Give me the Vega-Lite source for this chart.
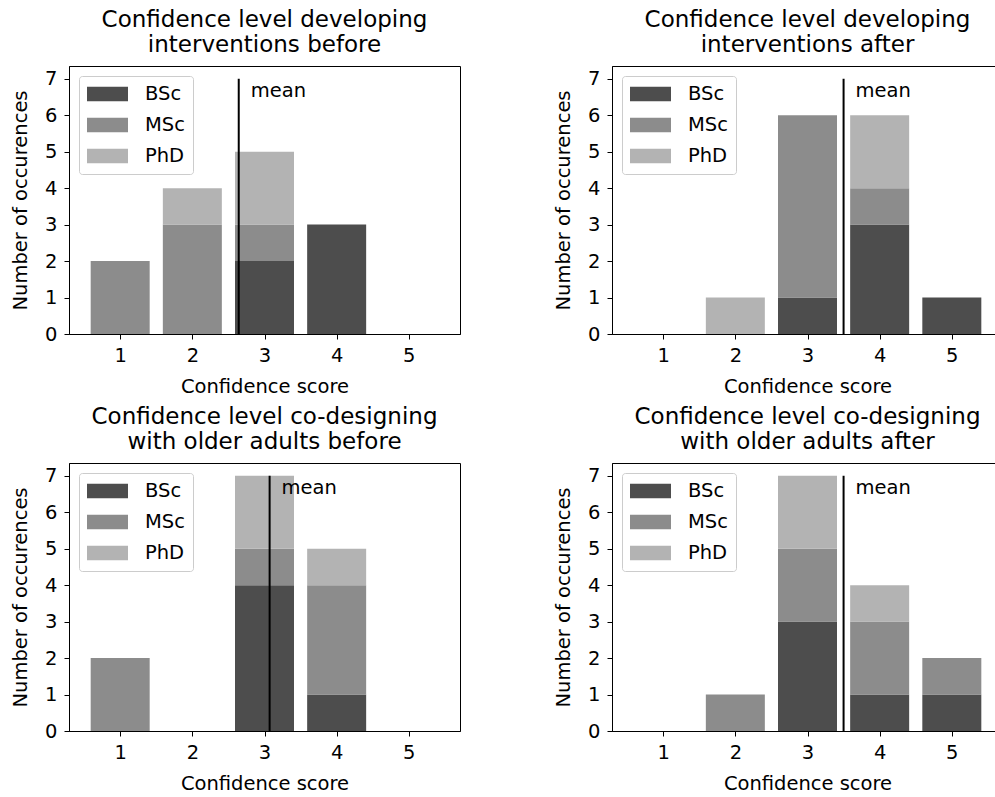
{
  "$schema": "https://vega.github.io/schema/vega-lite/v6.json",
  "padding": {"left": 10, "top": 8, "right": 0, "bottom": 0},
  "datasets": {
    "bars": [
      {"panel": "A", "score": 1, "degree": "MSc", "count": 2},
      {"panel": "A", "score": 2, "degree": "MSc", "count": 3},
      {"panel": "A", "score": 2, "degree": "PhD", "count": 1},
      {"panel": "A", "score": 3, "degree": "BSc", "count": 2},
      {"panel": "A", "score": 3, "degree": "MSc", "count": 1},
      {"panel": "A", "score": 3, "degree": "PhD", "count": 2},
      {"panel": "A", "score": 4, "degree": "BSc", "count": 3},
      {"panel": "B", "score": 2, "degree": "PhD", "count": 1},
      {"panel": "B", "score": 3, "degree": "BSc", "count": 1},
      {"panel": "B", "score": 3, "degree": "MSc", "count": 5},
      {"panel": "B", "score": 4, "degree": "BSc", "count": 3},
      {"panel": "B", "score": 4, "degree": "MSc", "count": 1},
      {"panel": "B", "score": 4, "degree": "PhD", "count": 2},
      {"panel": "B", "score": 5, "degree": "BSc", "count": 1},
      {"panel": "C", "score": 1, "degree": "MSc", "count": 2},
      {"panel": "C", "score": 3, "degree": "BSc", "count": 4},
      {"panel": "C", "score": 3, "degree": "MSc", "count": 1},
      {"panel": "C", "score": 3, "degree": "PhD", "count": 2},
      {"panel": "C", "score": 4, "degree": "BSc", "count": 1},
      {"panel": "C", "score": 4, "degree": "MSc", "count": 3},
      {"panel": "C", "score": 4, "degree": "PhD", "count": 1},
      {"panel": "D", "score": 2, "degree": "MSc", "count": 1},
      {"panel": "D", "score": 3, "degree": "BSc", "count": 3},
      {"panel": "D", "score": 3, "degree": "MSc", "count": 2},
      {"panel": "D", "score": 3, "degree": "PhD", "count": 2},
      {"panel": "D", "score": 4, "degree": "BSc", "count": 1},
      {"panel": "D", "score": 4, "degree": "MSc", "count": 2},
      {"panel": "D", "score": 4, "degree": "PhD", "count": 1},
      {"panel": "D", "score": 5, "degree": "BSc", "count": 1},
      {"panel": "D", "score": 5, "degree": "MSc", "count": 1}
    ],
    "means": [
      {"panel": "A", "mean": 2.643, "label": "mean"},
      {"panel": "B", "mean": 3.5, "label": "mean"},
      {"panel": "C", "mean": 3.071, "label": "mean"},
      {"panel": "D", "mean": 3.5, "label": "mean"}
    ]
  },
  "columns": 2,
  "spacing": {"row": 8, "column": 92},
  "resolve": {"legend": {"color": "independent"}, "scale": {"color": "independent"}},
  "concat": [
    {
      "title": {"text": ["Confidence level developing", "interventions before"]},
      "width": 391, "height": 268,
      "layer": [
        {
          "data": {"name": "bars"},
          "transform": [{"filter": "datum.panel == 'A'"}],
          "mark": {"type": "bar", "width": 59},
          "encoding": {
            "x": {"field": "score", "type": "quantitative", "scale": {"domain": [0.36, 5.64], "nice": false, "zero": false}, "axis": {"values": [1, 2, 3, 4, 5], "format": "d", "title": "Confidence score"}},
            "y": {"field": "count", "type": "quantitative", "stack": "zero", "scale": {"domain": [0, 7.35], "nice": false}, "axis": {"values": [0, 1, 2, 3, 4, 5, 6, 7], "format": "d", "title": "Number of occurences"}},
            "color": {"field": "degree", "type": "nominal", "scale": {"domain": ["BSc", "MSc", "PhD"], "range": ["#4d4d4d", "#8c8c8c", "#b3b3b3"]}, "legend": {"title": null, "symbolType": "M-1,-0.72H3.1V0.72H-1Z"}},
            "order": {"field": "degree", "sort": "ascending"}
          }
        },
        {
          "data": {"name": "means"},
          "transform": [{"filter": "datum.panel == 'A'"}],
          "mark": {"type": "rule", "color": "black", "strokeWidth": 2},
          "encoding": {
            "x": {"field": "mean", "type": "quantitative", "axis": {"values": [1, 2, 3, 4, 5], "format": "d", "title": "Confidence score"}},
            "y": {"datum": 0, "type": "quantitative", "axis": {"values": [0, 1, 2, 3, 4, 5, 6, 7], "format": "d", "title": "Number of occurences"}},
            "y2": {"datum": 7}
          }
        },
        {
          "data": {"name": "means"},
          "transform": [{"filter": "datum.panel == 'A'"}],
          "mark": {"type": "text", "align": "left", "baseline": "alphabetic", "dx": 12, "fontSize": 19.5, "color": "black"},
          "encoding": {
            "x": {"field": "mean", "type": "quantitative", "axis": {"values": [1, 2, 3, 4, 5], "format": "d", "title": "Confidence score"}},
            "y": {"datum": 6.5, "type": "quantitative", "axis": {"values": [0, 1, 2, 3, 4, 5, 6, 7], "format": "d", "title": "Number of occurences"}},
            "text": {"field": "label"}
          }
        }
      ]
    },
    {
      "title": {"text": ["Confidence level developing", "interventions after"]},
      "width": 391, "height": 268,
      "layer": [
        {
          "data": {"name": "bars"},
          "transform": [{"filter": "datum.panel == 'B'"}],
          "mark": {"type": "bar", "width": 59},
          "encoding": {
            "x": {"field": "score", "type": "quantitative", "scale": {"domain": [0.36, 5.64], "nice": false, "zero": false}, "axis": {"values": [1, 2, 3, 4, 5], "format": "d", "title": "Confidence score"}},
            "y": {"field": "count", "type": "quantitative", "stack": "zero", "scale": {"domain": [0, 7.35], "nice": false}, "axis": {"values": [0, 1, 2, 3, 4, 5, 6, 7], "format": "d", "title": "Number of occurences"}},
            "color": {"field": "degree", "type": "nominal", "scale": {"domain": ["BSc", "MSc", "PhD"], "range": ["#4d4d4d", "#8c8c8c", "#b3b3b3"]}, "legend": {"title": null, "symbolType": "M-1,-0.72H3.1V0.72H-1Z"}},
            "order": {"field": "degree", "sort": "ascending"}
          }
        },
        {
          "data": {"name": "means"},
          "transform": [{"filter": "datum.panel == 'B'"}],
          "mark": {"type": "rule", "color": "black", "strokeWidth": 2},
          "encoding": {
            "x": {"field": "mean", "type": "quantitative", "axis": {"values": [1, 2, 3, 4, 5], "format": "d", "title": "Confidence score"}},
            "y": {"datum": 0, "type": "quantitative", "axis": {"values": [0, 1, 2, 3, 4, 5, 6, 7], "format": "d", "title": "Number of occurences"}},
            "y2": {"datum": 7}
          }
        },
        {
          "data": {"name": "means"},
          "transform": [{"filter": "datum.panel == 'B'"}],
          "mark": {"type": "text", "align": "left", "baseline": "alphabetic", "dx": 12, "fontSize": 19.5, "color": "black"},
          "encoding": {
            "x": {"field": "mean", "type": "quantitative", "axis": {"values": [1, 2, 3, 4, 5], "format": "d", "title": "Confidence score"}},
            "y": {"datum": 6.5, "type": "quantitative", "axis": {"values": [0, 1, 2, 3, 4, 5, 6, 7], "format": "d", "title": "Number of occurences"}},
            "text": {"field": "label"}
          }
        }
      ]
    },
    {
      "title": {"text": ["Confidence level co-designing", "with older adults before"]},
      "width": 391, "height": 268,
      "layer": [
        {
          "data": {"name": "bars"},
          "transform": [{"filter": "datum.panel == 'C'"}],
          "mark": {"type": "bar", "width": 59},
          "encoding": {
            "x": {"field": "score", "type": "quantitative", "scale": {"domain": [0.36, 5.64], "nice": false, "zero": false}, "axis": {"values": [1, 2, 3, 4, 5], "format": "d", "title": "Confidence score"}},
            "y": {"field": "count", "type": "quantitative", "stack": "zero", "scale": {"domain": [0, 7.35], "nice": false}, "axis": {"values": [0, 1, 2, 3, 4, 5, 6, 7], "format": "d", "title": "Number of occurences"}},
            "color": {"field": "degree", "type": "nominal", "scale": {"domain": ["BSc", "MSc", "PhD"], "range": ["#4d4d4d", "#8c8c8c", "#b3b3b3"]}, "legend": {"title": null, "symbolType": "M-1,-0.72H3.1V0.72H-1Z"}},
            "order": {"field": "degree", "sort": "ascending"}
          }
        },
        {
          "data": {"name": "means"},
          "transform": [{"filter": "datum.panel == 'C'"}],
          "mark": {"type": "rule", "color": "black", "strokeWidth": 2},
          "encoding": {
            "x": {"field": "mean", "type": "quantitative", "axis": {"values": [1, 2, 3, 4, 5], "format": "d", "title": "Confidence score"}},
            "y": {"datum": 0, "type": "quantitative", "axis": {"values": [0, 1, 2, 3, 4, 5, 6, 7], "format": "d", "title": "Number of occurences"}},
            "y2": {"datum": 7}
          }
        },
        {
          "data": {"name": "means"},
          "transform": [{"filter": "datum.panel == 'C'"}],
          "mark": {"type": "text", "align": "left", "baseline": "alphabetic", "dx": 12, "fontSize": 19.5, "color": "black"},
          "encoding": {
            "x": {"field": "mean", "type": "quantitative", "axis": {"values": [1, 2, 3, 4, 5], "format": "d", "title": "Confidence score"}},
            "y": {"datum": 6.5, "type": "quantitative", "axis": {"values": [0, 1, 2, 3, 4, 5, 6, 7], "format": "d", "title": "Number of occurences"}},
            "text": {"field": "label"}
          }
        }
      ]
    },
    {
      "title": {"text": ["Confidence level co-designing", "with older adults after"]},
      "width": 391, "height": 268,
      "layer": [
        {
          "data": {"name": "bars"},
          "transform": [{"filter": "datum.panel == 'D'"}],
          "mark": {"type": "bar", "width": 59},
          "encoding": {
            "x": {"field": "score", "type": "quantitative", "scale": {"domain": [0.36, 5.64], "nice": false, "zero": false}, "axis": {"values": [1, 2, 3, 4, 5], "format": "d", "title": "Confidence score"}},
            "y": {"field": "count", "type": "quantitative", "stack": "zero", "scale": {"domain": [0, 7.35], "nice": false}, "axis": {"values": [0, 1, 2, 3, 4, 5, 6, 7], "format": "d", "title": "Number of occurences"}},
            "color": {"field": "degree", "type": "nominal", "scale": {"domain": ["BSc", "MSc", "PhD"], "range": ["#4d4d4d", "#8c8c8c", "#b3b3b3"]}, "legend": {"title": null, "symbolType": "M-1,-0.72H3.1V0.72H-1Z"}},
            "order": {"field": "degree", "sort": "ascending"}
          }
        },
        {
          "data": {"name": "means"},
          "transform": [{"filter": "datum.panel == 'D'"}],
          "mark": {"type": "rule", "color": "black", "strokeWidth": 2},
          "encoding": {
            "x": {"field": "mean", "type": "quantitative", "axis": {"values": [1, 2, 3, 4, 5], "format": "d", "title": "Confidence score"}},
            "y": {"datum": 0, "type": "quantitative", "axis": {"values": [0, 1, 2, 3, 4, 5, 6, 7], "format": "d", "title": "Number of occurences"}},
            "y2": {"datum": 7}
          }
        },
        {
          "data": {"name": "means"},
          "transform": [{"filter": "datum.panel == 'D'"}],
          "mark": {"type": "text", "align": "left", "baseline": "alphabetic", "dx": 12, "fontSize": 19.5, "color": "black"},
          "encoding": {
            "x": {"field": "mean", "type": "quantitative", "axis": {"values": [1, 2, 3, 4, 5], "format": "d", "title": "Confidence score"}},
            "y": {"datum": 6.5, "type": "quantitative", "axis": {"values": [0, 1, 2, 3, 4, 5, 6, 7], "format": "d", "title": "Number of occurences"}},
            "text": {"field": "label"}
          }
        }
      ]
    }
  ],
  "config": {
    "font": "DejaVu Sans",
    "view": {"stroke": "black", "strokeWidth": 1},
    "axis": {"grid": false, "domainColor": "black", "tickColor": "black", "labelColor": "black", "titleColor": "black", "labelFontSize": 19.5, "titleFontSize": 19.5, "titleFontWeight": "normal", "tickSize": 5},
    "axisX": {"labelPadding": 7, "titlePadding": 13},
    "axisY": {"labelPadding": 7, "titlePadding": 14},
    "title": {"fontSize": 23, "fontWeight": "normal", "color": "black", "lineHeight": 25, "offset": 9, "anchor": "middle", "frame": "group"},
    "legend": {"orient": "top-left", "offset": 10, "padding": 8, "fillColor": "white", "strokeColor": "#cccccc", "cornerRadius": 3, "symbolSize": 400, "symbolStrokeWidth": 0, "symbolOpacity": 1, "labelFontSize": 19.5, "labelOffset": 38, "rowPadding": 11, "labelColor": "black"}
  }
}
